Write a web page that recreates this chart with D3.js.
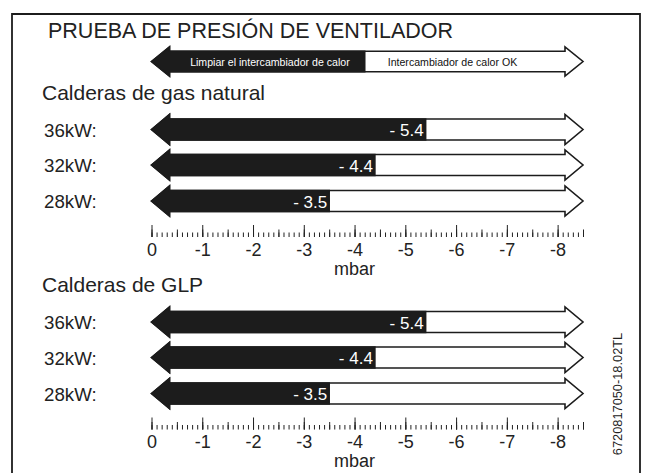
<!DOCTYPE html>
<html>
<head>
<meta charset="utf-8">
<script src="https://cdn.jsdelivr.net/npm/d3@7"></script>
<style>
  html, body { margin: 0; padding: 0; background: #fff; }
  svg { display: block; font-family: "Liberation Sans", Arial, Helvetica, sans-serif; }
</style>
</head>
<body>
<svg id="chart" width="651" height="473"></svg>
<script>
// Fan pressure test readings (mbar, shown as negative values on the scale)
const title = "PRUEBA DE PRESIÓN DE VENTILADOR";
const legendLabels = ["Limpiar el intercambiador de calor", "Intercambiador de calor OK"];
const legendSplit = 4.2;
const groupNames = ["Calderas de gas natural", "Calderas de GLP"];
const ratings = ["36kW:", "32kW:", "28kW:"];
const naturalGasValues = [5.4, 4.4, 3.5];
const lpgValues = [5.4, 4.4, 3.5];
const tickValues = [0, 1, 2, 3, 4, 5, 6, 7, 8];
const tickLabels = ["0", "-1", "-2", "-3", "-4", "-5", "-6", "-7", "-8"];
const axisTitle = "mbar";
const docCode = "6720817050-18.02TL";

const ink = "#1c1c1c";
const svg = d3.select("#chart");
const x = d3.scaleLinear().domain([0, 8.5]).range([151.5, 583]);

// frame
svg.append("path")
  .attr("d", "M12,480 V14 H640 V480")
  .attr("fill", "none").attr("stroke", ink).attr("stroke-width", 1.8);

svg.append("text").attr("x", 48).attr("y", 37.5)
  .attr("font-size", 21.5).attr("fill", "#222").text(title);

// double-ended arrow: left part filled black up to `split`, remainder white with outline
function arrow(g, cy, split, bodyH, headH, headL) {
  const x0 = x(0), x1 = x(8.5), bh = bodyH / 2, hh = headH / 2;
  const outline = [
    [x0, cy], [x0 + headL, cy - hh], [x0 + headL, cy - bh], [x1 - headL, cy - bh],
    [x1 - headL, cy - hh], [x1, cy], [x1 - headL, cy + hh], [x1 - headL, cy + bh],
    [x0 + headL, cy + bh], [x0 + headL, cy + hh]
  ];
  g.append("path").attr("d", d3.line()(outline) + "Z")
    .attr("fill", "#fff").attr("stroke", ink).attr("stroke-width", 1.6)
    .attr("stroke-linejoin", "miter");
  const sx = x(split);
  const dark = [
    [x0, cy], [x0 + headL, cy - hh], [x0 + headL, cy - bh], [sx, cy - bh],
    [sx, cy + bh], [x0 + headL, cy + bh], [x0 + headL, cy + hh]
  ];
  g.append("path").attr("d", d3.line()(dark) + "Z")
    .attr("fill", ink).attr("stroke", ink).attr("stroke-width", 1.6);
  return sx;
}

// legend arrow
const lg = svg.append("g");
const lsx = arrow(lg, 61.5, legendSplit, 20.5, 29, 18);
lg.append("text").attr("x", lsx - 15).attr("y", 65.5).attr("text-anchor", "end")
  .attr("font-size", 10.6).attr("fill", "#fff").text(legendLabels[0]);
lg.append("text").attr("x", lsx + 23).attr("y", 65.5)
  .attr("font-size", 10.6).attr("fill", "#111").text(legendLabels[1]);

function ruler(g, baseY) {
  const minor = d3.range(0, 86).map(i => i / 10);
  const mid = d3.range(0, 18).map(i => i / 2);
  g.append("g").attr("transform", `translate(0,${baseY})`)
    .call(d3.axisBottom(x).tickValues(minor).tickSize(-4.5).tickFormat(""))
    .call(a => a.select(".domain").remove());
  g.append("g").attr("transform", `translate(0,${baseY})`)
    .call(d3.axisBottom(x).tickValues(mid).tickSize(-7.5).tickFormat(""))
    .call(a => a.select(".domain").remove());
  const major = g.append("g").attr("transform", `translate(0,${baseY})`)
    .call(d3.axisBottom(x).tickValues(tickValues).tickSize(-12).tickPadding(6)
      .tickFormat((d, i) => tickLabels[i]))
    .call(a => a.select(".domain").remove());
  g.selectAll(".tick line").attr("stroke", "#222").attr("stroke-width", 1);
  major.selectAll(".tick text").attr("font-size", 18).attr("fill", "#222")
    .attr("font-family", "Liberation Sans, Arial, sans-serif");
  g.append("text").attr("x", x(4)).attr("y", baseY + 37.5).attr("text-anchor", "middle")
    .attr("font-size", 18).attr("fill", "#222").text(axisTitle);
}

function section(headY, rowYs, values, axisY, name) {
  const g = svg.append("g");
  g.append("text").attr("x", 42).attr("y", headY).attr("font-size", 21)
    .attr("fill", "#222").text(name);
  values.forEach((v, i) => {
    const cy = rowYs[i];
    g.append("text").attr("x", 44).attr("y", cy + 7).attr("font-size", 18.7)
      .attr("fill", "#222").text(ratings[i]);
    const sx = arrow(g, cy, v, 21, 30, 18);
    g.append("text").attr("x", sx - 2).attr("y", cy + 6.5).attr("text-anchor", "end")
      .attr("font-size", 17).attr("fill", "#fff").text("- " + v.toFixed(1));
  });
  ruler(g, axisY);
}

section(99.5, [129.5, 165, 201], naturalGasValues, 237, groupNames[0]);
section(292, [322, 357.5, 393.5], lpgValues, 429.5, groupNames[1]);

svg.append("text")
  .attr("transform", "translate(622,394) rotate(-90)")
  .attr("text-anchor", "middle").attr("font-size", 12.8).attr("fill", "#222")
  .text(docCode);
</script>
</body>
</html>
